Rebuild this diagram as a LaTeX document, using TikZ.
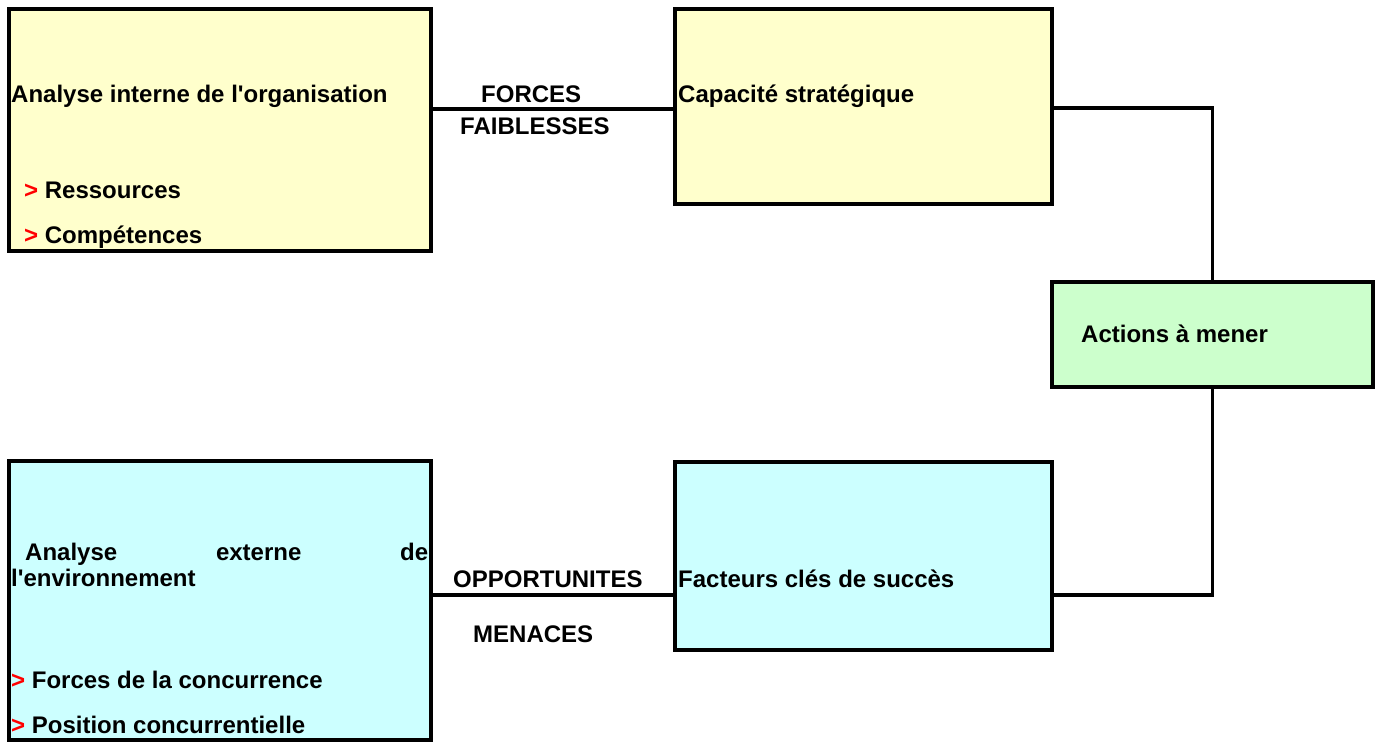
\documentclass[tikz,border=0pt]{standalone}
\usepackage{fontspec}
\setmainfont{Liberation Sans}
\definecolor{boxyellow}{HTML}{FFFFCC}
\definecolor{boxcyan}{HTML}{CCFFFF}
\definecolor{boxgreen}{HTML}{CCFFCC}
\definecolor{arrowred}{HTML}{FF0000}
\newcommand{\apos}{\textquotesingle}
\begin{document}
\begin{tikzpicture}[x=1pt,y=-1pt,
  box/.style={draw=black, line width=3.4pt, rectangle, inner sep=0pt, outer sep=0pt, anchor=north west},
  lbl/.style={inner sep=0pt, anchor=base west, font=\bfseries\fontsize{24}{28}\selectfont},
  link/.style={draw=black, line width=3.4pt}]
\fill[white] (0,0) rectangle (1376,742);
\useasboundingbox (0,0) rectangle (1376,742);
% boxes
\node[box, fill=boxyellow, minimum width=422pt, minimum height=242pt] (A) at (9,9) {};
\node[box, fill=boxyellow, minimum width=377pt, minimum height=195pt] (B) at (675,9) {};
\node[box, fill=boxgreen, minimum width=321pt, minimum height=105pt] (C) at (1052,282) {};
\node[box, fill=boxcyan, minimum width=422pt, minimum height=279pt] (D) at (9,461) {};
\node[box, fill=boxcyan, minimum width=377pt, minimum height=188pt] (E) at (675,462) {};
% helper levels
\coordinate (yab) at (0,109);
\coordinate (ybc) at (0,108);
\coordinate (yde) at (0,595);
% connectors
\draw[link] (A.east |- yab) -- (B.west |- yab);
\draw[link] (B.east |- ybc) -| (C.north);
\draw[link] (C.south) |- (E.east |- yde);
\draw[link] (D.east |- yde) -- (E.west |- yde);
% texts box A
\node[lbl] (ta) at (11,102) {Analyse interne de l\apos organisation};
\node[lbl] (ta1) at (24,198) {{\color{arrowred}>} Ressources};
\node[lbl] (ta2) at (24,243) {{\color{arrowred}>} Compétences};
% link labels
\node[lbl] (tf) at (481,102) {FORCES};
\node[lbl] (tfa) at (460,134) {FAIBLESSES};
\node[lbl] (to) at (453,587) {OPPORTUNITES};
\node[lbl] (tm) at (473,642) {MENACES};
% box B, C, E
\node[lbl] (tb) at (678,102) {Capacité stratégique};
\node[lbl] (tc) at (1081,342) {Actions à mener};
\node[lbl] (te) at (678,587) {Facteurs clés de succès};
% box D
\node[lbl] (td) at (25,560) {\makebox[403pt][s]{Analyse externe de}};
\node[lbl] (td0) at (11,586) {l\apos environnement};
\node[lbl] (td1) at (11,688) {{\color{arrowred}>} Forces de la concurrence};
\node[lbl] (td2) at (11,733) {{\color{arrowred}>} Position concurrentielle};
\end{tikzpicture}
\end{document}
